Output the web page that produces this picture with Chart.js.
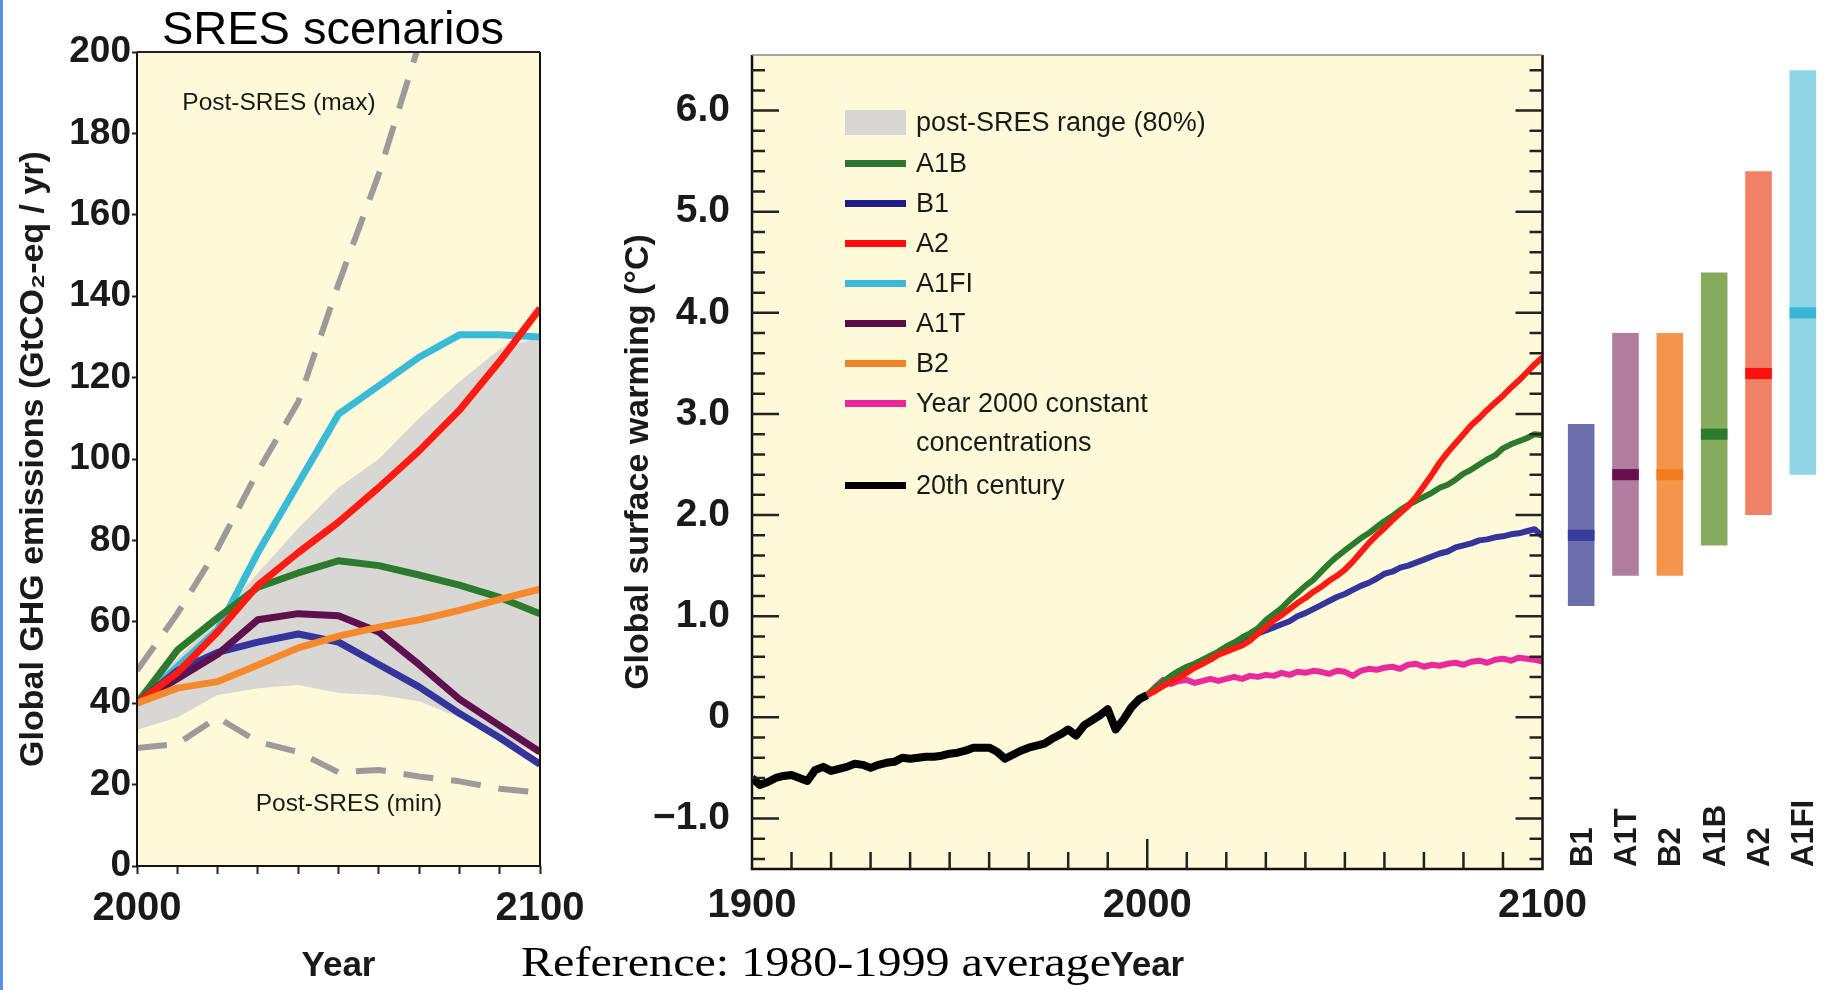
<!DOCTYPE html>
<html lang="en">
<head>
<meta charset="UTF-8">
<title>SRES scenarios - emissions and surface warming</title>
<script src="https://cdn.jsdelivr.net/npm/chart.js"></script>
<style>
  html, body { margin: 0; padding: 0; background: #fff; }
  body { position: relative; width: 1825px; height: 990px; overflow: hidden;
         font-family: "Liberation Sans", Arial, Helvetica, sans-serif; color: #1a1a1a; }
  canvas { position: absolute; top: 0; }
  #ghgChart { left: 0; }
  #tempChart { left: 560px; }
  #rangeChart { left: 1559px; }
  .edge { position: absolute; left: 0; top: 0; width: 3px; height: 990px; background: #5b8fe0; }
  .txt { position: absolute; white-space: nowrap; }
  #sresTitle { left: 133px; width: 400px; top: 4px; text-align: center; font-size: 47px; line-height: 47px; color: #000; }
  .note { font-size: 24.5px; line-height: 24px; transform: translateX(-50%); }
  #refNote { left: 521px; top: 940px; font-family: "Liberation Serif", "Times New Roman", serif;
             font-size: 43px; line-height: 43px; color: #000; transform-origin: 0 0; }
  .sw { position: absolute; left: 845px; width: 61px; height: 7px; }
  .lg { position: absolute; left: 916px; font-size: 27px; line-height: 39px; white-space: nowrap; }
  .barLab { position: absolute; top: 867px; font-size: 31px; font-weight: bold; line-height: 31px;
            transform-origin: 0 0; transform: rotate(-90deg); white-space: nowrap; color: #1a1a1a; }
</style>
</head>
<body>
<div class="edge"></div>
<canvas id="ghgChart" width="600" height="990"></canvas>
<canvas id="tempChart" width="1040" height="990"></canvas>
<canvas id="rangeChart" width="266" height="990"></canvas>

<div id="sresTitle" class="txt">SRES scenarios</div>
<div class="txt note" style="left:279px; top:90px">Post-SRES (max)</div>
<div class="txt note" style="left:349px; top:791px">Post-SRES (min)</div>
<div id="refNote" class="txt">Reference: 1980-1999 average</div>
<div id="legend"></div>
<div id="barLabels"></div>

<script>
// ---- left panel: global GHG emissions (GtCO2-eq / yr) ----
const ghgYears = [2000, 2010, 2020, 2030, 2040, 2050, 2060, 2070, 2080, 2090, 2100];
const ghgA1B  = [40, 53, 61, 68.5, 72, 75, 73.8, 71.5, 69, 66, 62];
const ghgB1   = [40, 48, 52.5, 55, 57, 55, 49.5, 44, 37.5, 31.5, 25];
const ghgA2   = [40, 47.5, 57.5, 69, 77, 84.5, 93, 102, 112, 124, 137];
const ghgA1FI = [40, 49, 58, 77, 94, 111, 118, 125, 130.5, 130.5, 130];
const ghgA1T  = [40, 46, 52, 60.5, 62, 61.5, 57.5, 49.5, 41, 34.5, 28];
const ghgB2   = [40, 43.7, 45.3, 49.4, 53.6, 56.5, 58.7, 60.5, 62.8, 65.5, 68];
const rangeLow  = [33.5, 36.5, 42, 43.7, 44.5, 42.5, 42, 40.5, 36.5, 32, 27];
const rangeHigh = [42, 51, 61, 72, 83, 93, 100, 110, 119, 127, 130];
const postMaxYears = [2000, 2010, 2020, 2030, 2040, 2050, 2060, 2070];
const postMax = [48, 62, 78, 97, 114, 143, 170, 202];
const postMin = [29, 30, 36.5, 30.5, 28, 23, 23.6, 22, 20.8, 19, 18];

// ---- middle panel: global surface warming (deg C) ----
const histYears = [1900,1902,1904,1906,1908,1910,1912,1914,1916,1918,1920,1922,1924,1926,1928,1930,1932,1934,1936,1938,
  1940,1942,1944,1946,1948,1950,1952,1954,1956,1958,1960,1962,1964,1966,1968,1970,1972,1974,1976,1978,
  1980,1982,1984,1986,1988,1990,1992,1994,1996,1998,2000];
const hist20th = [-.60,-.67,-.64,-.60,-.58,-.57,-.60,-.63,-.52,-.49,-.53,-.51,-.49,-.46,-.47,-.50,-.47,-.45,-.44,-.40,
  -.41,-.40,-.39,-.39,-.38,-.36,-.35,-.33,-.30,-.30,-.30,-.34,-.41,-.37,-.33,-.30,-.28,-.26,-.21,-.17,
  -.12,-.18,-.08,-.03,.02,.08,-.12,-.02,.10,.18,.22];
const projYears = [2000,2002,2004,2006,2008,2010,2012,2014,2016,2018,2020,2022,2024,2026,2028,2030,2032,2034,2036,2038,
  2040,2042,2044,2046,2048,2050,2052,2054,2056,2058,2060,2062,2064,2066,2068,2070,2072,2074,2076,2078,
  2080,2082,2084,2086,2088,2090,2092,2094,2096,2098,2100];
const warmA2 = [.22,.26,.31,.35,.39,.44,.49,.53,.57,.62,.65,.68,.71,.76,.83,.89,.96,1.01,1.07,1.13,
  1.18,1.24,1.29,1.35,1.40,1.46,1.54,1.63,1.72,1.80,1.87,1.95,2.02,2.09,2.18,2.29,2.40,2.52,2.62,2.71,
  2.80,2.89,2.96,3.04,3.11,3.18,3.26,3.33,3.41,3.49,3.56];
const warmA1B = [.22,.29,.35,.41,.46,.50,.53,.57,.61,.65,.70,.74,.79,.83,.88,.96,1.02,1.08,1.16,1.23,
  1.30,1.36,1.44,1.52,1.59,1.65,1.71,1.77,1.82,1.88,1.94,1.99,2.05,2.10,2.14,2.18,2.22,2.27,2.30,2.35,
  2.41,2.45,2.50,2.55,2.59,2.66,2.70,2.73,2.76,2.80,2.79];
const warmB1 = [.22,.28,.34,.40,.45,.49,.52,.56,.60,.64,.69,.72,.76,.80,.83,.86,.89,.92,.95,1.00,
  1.03,1.07,1.11,1.15,1.19,1.22,1.26,1.30,1.33,1.37,1.42,1.44,1.48,1.50,1.53,1.56,1.59,1.62,1.64,1.68,
  1.70,1.72,1.75,1.76,1.78,1.79,1.81,1.82,1.84,1.86,1.79];
const warmCommit = [.22,.30,.37,.33,.36,.37,.34,.36,.38,.36,.38,.40,.38,.41,.40,.42,.41,.44,.42,.45,
  .44,.46,.45,.43,.46,.45,.41,.46,.48,.47,.49,.50,.48,.52,.53,.50,.52,.51,.53,.54,
  .52,.55,.56,.54,.57,.58,.56,.59,.58,.57,.55];

// ---- right panel: likely range and best estimate at 2090-2099 ----
const rangeNames = ['B1', 'A1T', 'B2', 'A1B', 'A2', 'A1FI'];
const rangeMin  = [1.1, 1.4, 1.4, 1.7, 2.0, 2.4];
const rangeMax  = [2.9, 3.8, 3.8, 4.4, 5.4, 6.4];
const rangeBest = [1.8, 2.4, 2.4, 2.8, 3.4, 4.0];

// colours
const C = {
  A1B: '#2b7a2e', B1: '#33349c', A2: '#ff1a12', A1FI: '#3bbad8', A1T: '#5e0f4f', B2: '#f5892c',
  commit: '#e92a9c', hist: '#000000', band: '#d9d7d3', dash: '#9d9a9b', cream: '#fefad9'
};
const barFill = ['#6c6eab', '#b07d9f', '#f4954c', '#86ab5c', '#f18165', '#8fd5e5'];
const barBest = ['#373b9b', '#6a0f4e', '#f47b20', '#2b7a2d', '#fe1010', '#38b6d6'];

Chart.defaults.font.family = '"Liberation Sans", Arial, Helvetica, sans-serif';
Chart.defaults.color = '#1a1a1a';

const pts = (xs, ys) => ys.map((v, i) => ({x: xs[i], y: v}));
const line = (label, xs, ys, color, width, extra) => Object.assign({
  label: label, data: pts(xs, ys), borderColor: color, borderWidth: width,
  pointRadius: 0, tension: 0, fill: false, borderJoinStyle: 'round'
}, extra || {});

// cream plot background + frame
const plotFrame = {
  id: 'plotFrame',
  beforeDraw(chart, args, o) {
    const a = chart.chartArea, ctx = chart.ctx;
    ctx.save();
    ctx.fillStyle = o.fill;
    ctx.fillRect(a.left, a.top, a.right - a.left, a.bottom - a.top);
    ctx.restore();
  },
  afterDatasetsDraw(chart, args, o) {
    const a = chart.chartArea, ctx = chart.ctx;
    ctx.save();
    ctx.lineWidth = o.width;
    ctx.strokeStyle = o.color;
    ctx.beginPath();
    ctx.moveTo(a.left, a.top);
    ctx.lineTo(a.left, a.bottom);
    ctx.lineTo(a.right, a.bottom);
    ctx.lineTo(a.right, a.top);
    ctx.stroke();
    ctx.lineWidth = o.topWidth;
    ctx.strokeStyle = o.topColor;
    ctx.beginPath();
    ctx.moveTo(a.left, a.top);
    ctx.lineTo(a.right, a.top);
    ctx.stroke();
    ctx.restore();
  }
};

// tick marks pointing into the plot (middle panel)
const innerTicks = {
  id: 'innerTicks',
  afterDatasetsDraw(chart) {
    const {ctx, chartArea: a, scales: {x, y}} = chart;
    ctx.save();
    ctx.strokeStyle = '#222';
    ctx.lineWidth = 2.5;
    ctx.beginPath();
    for (let k = -7; k <= 32; k++) {
      const py = y.getPixelForValue(k / 5);
      const len = k % 5 === 0 ? 27 : 13;
      ctx.moveTo(a.left, py); ctx.lineTo(a.left + len, py);
      ctx.moveTo(a.right, py); ctx.lineTo(a.right - len, py);
    }
    for (let yr = 1910; yr < 2100; yr += 10) {
      const px = x.getPixelForValue(yr);
      const len = yr === 2000 ? 30 : 17;
      ctx.moveTo(px, a.bottom); ctx.lineTo(px, a.bottom - len);
    }
    ctx.stroke();
    ctx.restore();
  }
};

const tickFont = {size: 39, weight: 'bold'};
const titleFont = {size: 34, weight: 'bold'};

// ---------- left chart ----------
new Chart(document.getElementById('ghgChart'), {
  type: 'line',
  data: {
    datasets: [
      line('B2', ghgYears, ghgB2, C.B2, 7),
      line('A2', ghgYears, ghgA2, C.A2, 7),
      line('A1T', ghgYears, ghgA1T, C.A1T, 7),
      line('B1', ghgYears, ghgB1, C.B1, 7),
      line('A1B', ghgYears, ghgA1B, C.A1B, 7),
      line('A1FI', ghgYears, ghgA1FI, C.A1FI, 7),
      line('Post-SRES (min)', ghgYears, postMin, C.dash, 6, {borderDash: [30, 18]}),
      line('Post-SRES (max)', postMaxYears, postMax, C.dash, 6, {borderDash: [30, 18]}),
      line('range low', ghgYears, rangeLow, 'transparent', 0),
      line('post-SRES range (80%)', ghgYears, rangeHigh, 'transparent', 0, {fill: '-1', backgroundColor: C.band})
    ]
  },
  options: {
    responsive: false, animation: false, devicePixelRatio: 1,
    layout: {padding: {top: 52, right: 60, left: 0, bottom: 0}},
    plugins: {
      legend: {display: false}, tooltip: {enabled: false},
      plotFrame: {fill: C.cream, color: '#111', width: 2, topColor: '#222', topWidth: 2}
    },
    scales: {
      x: {
        type: 'linear', min: 2000, max: 2100,
        ticks: {stepSize: 10, autoSkip: false, maxRotation: 0, padding: 11, font: {size: 40, weight: 'bold'},
                callback: v => (v === 2000 || v === 2100) ? String(v) : ''},
        grid: {drawOnChartArea: false, tickLength: 8, tickWidth: 2, tickColor: '#222'},
        border: {display: false},
        title: {display: true, text: 'Year', font: {size: 35, weight: 'bold'}, padding: {top: 0, bottom: 3}},
        afterFit: s => { s.height = 124; }
      },
      y: {
        min: 0, max: 200,
        ticks: {stepSize: 20, padding: 1, font: {size: 37, weight: 'bold'}},
        grid: {drawOnChartArea: false, tickLength: 5, tickWidth: 2, tickColor: '#222'},
        border: {display: false},
        title: {display: true, text: 'Global GHG emissions (GtCO\u2082-eq / yr)', font: titleFont, padding: {top: 13, bottom: 0}},
        afterFit: s => { s.width = 137; }
      }
    }
  },
  plugins: [plotFrame]
});

// ---------- middle chart ----------
const tempLabel = v => {
  if (Math.abs(v - Math.round(v)) > 1e-6) return '';
  if (v === 0) return '0';
  return v < 0 ? '\u2212' + Math.abs(v).toFixed(1) : v.toFixed(1);
};

new Chart(document.getElementById('tempChart'), {
  type: 'line',
  data: {
    datasets: [
      line('A2', projYears, warmA2, C.A2, 6),
      line('A1B', projYears, warmA1B, C.A1B, 6),
      line('B1', projYears, warmB1, C.B1, 6),
      line('20th century', histYears, hist20th, C.hist, 8),
      line('Year 2000 constant concentrations', projYears, warmCommit, C.commit, 6)
    ]
  },
  options: {
    responsive: false, animation: false, devicePixelRatio: 1,
    layout: {padding: {top: 55, right: 50, left: 0, bottom: 0}},
    plugins: {
      legend: {display: false}, tooltip: {enabled: false},
      plotFrame: {fill: C.cream, color: '#111', width: 2.5, topColor: '#888', topWidth: 1.5}
    },
    scales: {
      x: {
        type: 'linear', min: 1900, max: 2100,
        ticks: {stepSize: 100, maxRotation: 0, padding: 13, font: {size: 40, weight: 'bold'}, callback: v => String(v)},
        grid: {drawOnChartArea: false, drawTicks: false},
        border: {display: false},
        title: {display: true, text: 'Year', font: {size: 35, weight: 'bold'}, padding: {top: 0, bottom: 3}},
        afterFit: s => { s.height = 121; }
      },
      y: {
        min: -1.5, max: 6.55,
        ticks: {stepSize: 1, includeBounds: false, padding: 22, font: tickFont, callback: tempLabel},
        grid: {drawOnChartArea: false, drawTicks: false},
        border: {display: false},
        title: {display: true, text: 'Global surface warming (\u00B0C)', font: titleFont, padding: {top: 58, bottom: 0}},
        afterFit: s => { s.width = 192; }
      }
    }
  },
  plugins: [plotFrame, innerTicks]
});

// ---------- right: likely ranges ----------
const rangeChart = new Chart(document.getElementById('rangeChart'), {
  type: 'bar',
  data: {
    labels: rangeNames,
    datasets: [
      {label: 'best estimate', data: rangeBest.map(b => [b - 0.055, b + 0.055]), backgroundColor: barBest,
       grouped: false, order: 0, barPercentage: 0.6, categoryPercentage: 1, borderWidth: 0},
      {label: 'likely range', data: rangeMin.map((lo, i) => [lo, rangeMax[i]]), backgroundColor: barFill,
       grouped: false, order: 1, barPercentage: 0.6, categoryPercentage: 1, borderWidth: 0}
    ]
  },
  options: {
    responsive: false, animation: false, devicePixelRatio: 1,
    layout: {padding: {top: 55, bottom: 121, left: 0, right: 0}},
    plugins: {legend: {display: false}, tooltip: {enabled: false}},
    scales: {
      x: {display: false},
      y: {display: false, min: -1.5, max: 6.55}
    }
  }
});

// rotated scenario names under the range bars
const barLabels = document.getElementById('barLabels');
rangeNames.forEach((name, i) => {
  const d = document.createElement('div');
  d.className = 'barLab';
  d.textContent = name;
  d.style.left = (1559 + rangeChart.scales.x.getPixelForValue(i) - 15.5) + 'px';
  barLabels.appendChild(d);
});

// legend of the middle panel
const legendItems = [
  {text: 'post-SRES range (80%)', color: C.band, box: true, y: 122},
  {text: 'A1B', color: '#2e7530', y: 163},
  {text: 'B1', color: '#1e1b8b', y: 203},
  {text: 'A2', color: '#fe0c0c', y: 243},
  {text: 'A1FI', color: '#3cb9d6', y: 283},
  {text: 'A1T', color: '#5b0d4a', y: 323},
  {text: 'B2', color: '#f28228', y: 363},
  {text: 'Year 2000 constant<br>concentrations', color: '#e8299b', y: 403},
  {text: '20th century', color: '#000', y: 485}
];
const legend = document.getElementById('legend');
legendItems.forEach(it => {
  const sw = document.createElement('div');
  sw.className = 'sw';
  sw.style.background = it.color;
  const h = it.box ? 25 : 7;
  sw.style.height = h + 'px';
  sw.style.top = (it.y - h / 2) + 'px';
  legend.appendChild(sw);
  const t = document.createElement('div');
  t.className = 'lg';
  t.innerHTML = it.text;
  t.style.top = (it.y - 19.5) + 'px';
  legend.appendChild(t);
});

// stretch the reference note to the width it has in the figure
const ref = document.getElementById('refNote');
ref.style.transform = 'scaleX(' + (590 / ref.getBoundingClientRect().width) + ')';
</script>
</body>
</html>
